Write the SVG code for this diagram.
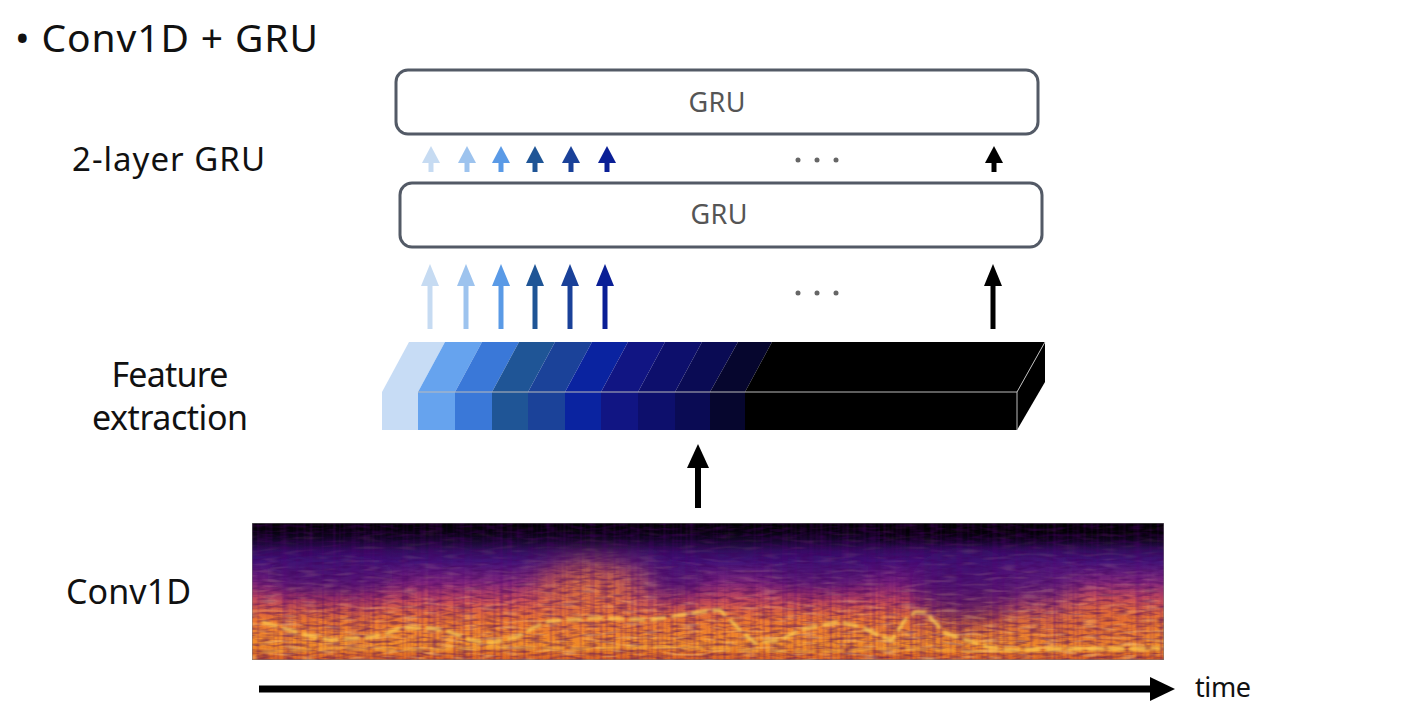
<svg xmlns="http://www.w3.org/2000/svg" width="1410" height="720" viewBox="0 0 1410 720">
<style>
.lbl{font-family:"Noto Sans","Open Sans",sans-serif;fill:#111;}
.gru{font-family:"Noto Sans","Open Sans",sans-serif;fill:#555;font-size:27px;}
.box{fill:#fff;stroke:#535a66;stroke-width:3;}
.dot{fill:#666;}
</style>
<defs>
<linearGradient id="spec" x1="0" y1="0" x2="0" y2="1">
<stop offset="0" stop-color="#08040f"/>
<stop offset="0.1" stop-color="#1a0a38"/>
<stop offset="0.28" stop-color="#421579"/>
<stop offset="0.43" stop-color="#80277c"/>
<stop offset="0.56" stop-color="#c84c5a"/>
<stop offset="0.7" stop-color="#ea7430"/>
<stop offset="0.88" stop-color="#f28c28"/>
<stop offset="1" stop-color="#da6222"/>
</linearGradient>
<linearGradient id="topdark" x1="0" y1="0" x2="0" y2="1">
<stop offset="0" stop-color="#000" stop-opacity="0.9"/>
<stop offset="1" stop-color="#000" stop-opacity="0"/>
</linearGradient>
<linearGradient id="brightMask" x1="0" y1="0" x2="0" y2="1">
<stop offset="0" stop-color="#fff" stop-opacity="0.05"/>
<stop offset="0.4" stop-color="#fff" stop-opacity="0.3"/>
<stop offset="1" stop-color="#fff" stop-opacity="0.9"/>
</linearGradient>
<filter id="tex" x="0" y="0" width="1" height="1">
<feTurbulence type="fractalNoise" baseFrequency="0.07 0.32" numOctaves="2" seed="7"/>
<feColorMatrix type="matrix" values="0 0 0 0 0.05  0 0 0 0 0  0 0 0 0 0.1  0 0 0 -2.6 1.55"/>
<feComposite in2="SourceGraphic" operator="in"/>
</filter>
<filter id="vstripe" x="0" y="0" width="1" height="1">
<feTurbulence type="fractalNoise" baseFrequency="0.3 0.006" numOctaves="1" seed="11"/>
<feColorMatrix type="matrix" values="0 0 0 0 0.1  0 0 0 0 0  0 0 0 0 0.2  0 0 0 -2.6 1.5"/>
<feComposite in2="SourceGraphic" operator="in"/>
</filter>
<filter id="bright" x="0" y="0" width="1" height="1">
<feTurbulence type="fractalNoise" baseFrequency="0.05 0.3" numOctaves="1" seed="3"/>
<feColorMatrix type="matrix" values="0 0 0 0 1  0 0 0 0 0.76  0 0 0 0 0.3  0 0 0 3.4 -1.8"/>
<feComposite in2="SourceGraphic" operator="in"/>
</filter>
<filter id="blur"><feGaussianBlur stdDeviation="1.6"/></filter>
<filter id="blur8" x="-50%" y="-50%" width="200%" height="200%"><feGaussianBlur stdDeviation="14"/></filter>
<clipPath id="specClip"><rect x="252" y="523" width="912" height="137"/></clipPath>
</defs>

<text class="lbl" x="15" y="52" font-size="39" textLength="303" lengthAdjust="spacing">• Conv1D + GRU</text>
<text class="lbl" x="72" y="171" font-size="33" textLength="193" lengthAdjust="spacing">2-layer GRU</text>
<text class="lbl" x="170" y="387" font-size="34" text-anchor="middle" textLength="117" lengthAdjust="spacing">Feature</text>
<text class="lbl" x="170" y="430" font-size="34" text-anchor="middle" textLength="156" lengthAdjust="spacing">extraction</text>
<text class="lbl" x="66" y="604" font-size="34" textLength="125" lengthAdjust="spacing">Conv1D</text>
<text class="lbl" x="1195" y="697" font-size="27" textLength="56" lengthAdjust="spacing">time</text>

<g id="gru-top">
<rect class="box" x="396" y="70" width="642" height="64" rx="12"/>
<text class="gru" x="717" y="112" text-anchor="middle" textLength="57" lengthAdjust="spacing">GRU</text>
</g>
<g id="gru-bottom">
<rect class="box" x="400" y="183" width="642" height="64" rx="12"/>
<text class="gru" x="719" y="224" text-anchor="middle" textLength="57" lengthAdjust="spacing">GRU</text>
</g>

<g id="feature-block">
<polygon points="382,392 409,342 445,342 418,392" fill="#c7dcf5"/>
<polygon points="418,392 445,342 482,342 455,392" fill="#66a3ee"/>
<polygon points="455,392 482,342 519,342 492,392" fill="#3a78d8"/>
<polygon points="492,392 519,342 555,342 528,392" fill="#1f5596"/>
<polygon points="528,392 555,342 592,342 565,392" fill="#1b4299"/>
<polygon points="565,392 592,342 628,342 601,392" fill="#0a23a0"/>
<polygon points="601,392 628,342 665,342 638,392" fill="#111583"/>
<polygon points="638,392 665,342 702,342 675,392" fill="#0d0f6c"/>
<polygon points="675,392 702,342 738,342 710,392" fill="#0a0b54"/>
<polygon points="710,392 738,342 772,342 745,392" fill="#06062e"/>
<polygon points="745,392 772,342 1045,342 1017,392" fill="#000"/>
<rect x="382" y="392" width="36" height="38" fill="#c7dcf5"/>
<rect x="418" y="392" width="37" height="38" fill="#66a3ee"/>
<rect x="455" y="392" width="37" height="38" fill="#3a78d8"/>
<rect x="492" y="392" width="36" height="38" fill="#1f5596"/>
<rect x="528" y="392" width="37" height="38" fill="#1b4299"/>
<rect x="565" y="392" width="36" height="38" fill="#0a23a0"/>
<rect x="601" y="392" width="37" height="38" fill="#111583"/>
<rect x="638" y="392" width="37" height="38" fill="#0d0f6c"/>
<rect x="675" y="392" width="35" height="38" fill="#0a0b54"/>
<rect x="710" y="392" width="35" height="38" fill="#06062e"/>
<rect x="745" y="392" width="272" height="38" fill="#000"/>
<polygon points="1017,392 1045,342 1045,382 1017,430" fill="#000"/>
<polyline points="418,392 1017,392 1045,342" fill="none" stroke="#bbb" stroke-width="1"/>
<line x1="1017" y1="392" x2="1017" y2="430" stroke="#bbb" stroke-width="1"/>
</g>

<g id="spectrogram" clip-path="url(#specClip)">
<rect x="252" y="523" width="912" height="137" fill="url(#spec)"/>
<g filter="url(#blur8)" opacity="0.75">
<ellipse cx="965" cy="585" rx="55" ry="38" fill="#3a0f6e"/>
<ellipse cx="1040" cy="585" rx="40" ry="25" fill="#4a1478"/>
<ellipse cx="330" cy="575" rx="70" ry="20" fill="#3a0f6e"/>
<ellipse cx="660" cy="578" rx="50" ry="18" fill="#3a0f6e"/>
<ellipse cx="820" cy="572" rx="60" ry="16" fill="#3a0f6e"/>
<ellipse cx="590" cy="592" rx="55" ry="30" fill="#e87a30"/>
<ellipse cx="1090" cy="625" rx="60" ry="20" fill="#e06a30"/>
</g>
<rect x="252" y="523" width="912" height="28" fill="url(#topdark)"/>
<rect x="880" y="523" width="284" height="24" fill="url(#topdark)"/>
<rect x="252" y="523" width="912" height="137" fill="#000" filter="url(#tex)" opacity="0.45"/>
<rect x="252" y="523" width="912" height="137" fill="#000" filter="url(#vstripe)" opacity="0.3"/>
<rect x="252" y="523" width="912" height="137" fill="url(#brightMask)" filter="url(#bright)" opacity="0.55"/>
<polyline filter="url(#blur)" fill="none" stroke="#ffd050" stroke-width="3.5" opacity="0.85" stroke-dasharray="16 5" stroke-linejoin="round" points="262,622 283,628 310,636 330,640 360,638 383,635 400,628 430,628 450,632 470,640 490,643 517,637 533,628 550,621 600,618 650,620 700,612 720,610 740,630 755,643 780,640 800,630 838,622 862,627 880,636 892,640 905,620 915,612 925,612 945,633 988,647 1010,650 1160,648"/>
<polyline filter="url(#blur)" fill="none" stroke="#ffc040" stroke-width="3" opacity="0.6" stroke-dasharray="22 6" points="262,652 340,648 420,650 500,647 580,649 660,646 740,650 820,652 900,648 980,652 1060,648 1160,650"/>
<rect x="252" y="523" width="912" height="137" fill="none" stroke="#777" stroke-width="1"/>
</g>

<g id="connectors">
<line x1="430" y1="329" x2="430" y2="284" stroke="#c6dbf2" stroke-width="5"/>
<polygon points="421,286 430,264 439,286" fill="#c6dbf2"/>
<line x1="466" y1="329" x2="466" y2="284" stroke="#9dc3ee" stroke-width="5"/>
<polygon points="457,286 466,264 475,286" fill="#9dc3ee"/>
<line x1="501" y1="329" x2="501" y2="284" stroke="#5a9ae6" stroke-width="5"/>
<polygon points="492,286 501,264 510,286" fill="#5a9ae6"/>
<line x1="535" y1="329" x2="535" y2="284" stroke="#1f5596" stroke-width="5"/>
<polygon points="526,286 535,264 544,286" fill="#1f5596"/>
<line x1="570" y1="329" x2="570" y2="284" stroke="#1a4199" stroke-width="5"/>
<polygon points="561,286 570,264 579,286" fill="#1a4199"/>
<line x1="605" y1="329" x2="605" y2="284" stroke="#0a1f96" stroke-width="5"/>
<polygon points="596,286 605,264 614,286" fill="#0a1f96"/>
<line x1="993" y1="329" x2="993" y2="284" stroke="#000" stroke-width="5"/>
<polygon points="984,286 993,264 1002,286" fill="#000"/>
<line x1="431" y1="172" x2="431" y2="160" stroke="#c6dbf2" stroke-width="5"/>
<polygon points="422,163 431,146 440,163" fill="#c6dbf2"/>
<line x1="467" y1="172" x2="467" y2="160" stroke="#9dc3ee" stroke-width="5"/>
<polygon points="458,163 467,146 476,163" fill="#9dc3ee"/>
<line x1="501" y1="172" x2="501" y2="160" stroke="#5a9ae6" stroke-width="5"/>
<polygon points="492,163 501,146 510,163" fill="#5a9ae6"/>
<line x1="535" y1="172" x2="535" y2="160" stroke="#1f5596" stroke-width="5"/>
<polygon points="526,163 535,146 544,163" fill="#1f5596"/>
<line x1="571" y1="172" x2="571" y2="160" stroke="#1a4199" stroke-width="5"/>
<polygon points="562,163 571,146 580,163" fill="#1a4199"/>
<line x1="607" y1="172" x2="607" y2="160" stroke="#0a1f96" stroke-width="5"/>
<polygon points="598,163 607,146 616,163" fill="#0a1f96"/>
<line x1="994" y1="172" x2="994" y2="160" stroke="#000" stroke-width="5"/>
<polygon points="985,163 994,146 1003,163" fill="#000"/>
<line x1="698" y1="508" x2="698" y2="466" stroke="#000" stroke-width="6"/>
<polygon points="687,468 698,444 709,468" fill="#000"/>
<line x1="259" y1="689" x2="1152" y2="689" stroke="#000" stroke-width="7"/>
<polygon points="1150,677 1175,689 1150,701" fill="#000"/>
<circle class="dot" cx="798" cy="160" r="2.5"/>
<circle class="dot" cx="817" cy="160" r="2.5"/>
<circle class="dot" cx="836" cy="160" r="2.5"/>
<circle class="dot" cx="798" cy="293" r="2.5"/>
<circle class="dot" cx="817" cy="293" r="2.5"/>
<circle class="dot" cx="836" cy="293" r="2.5"/>
</g>
</svg>
